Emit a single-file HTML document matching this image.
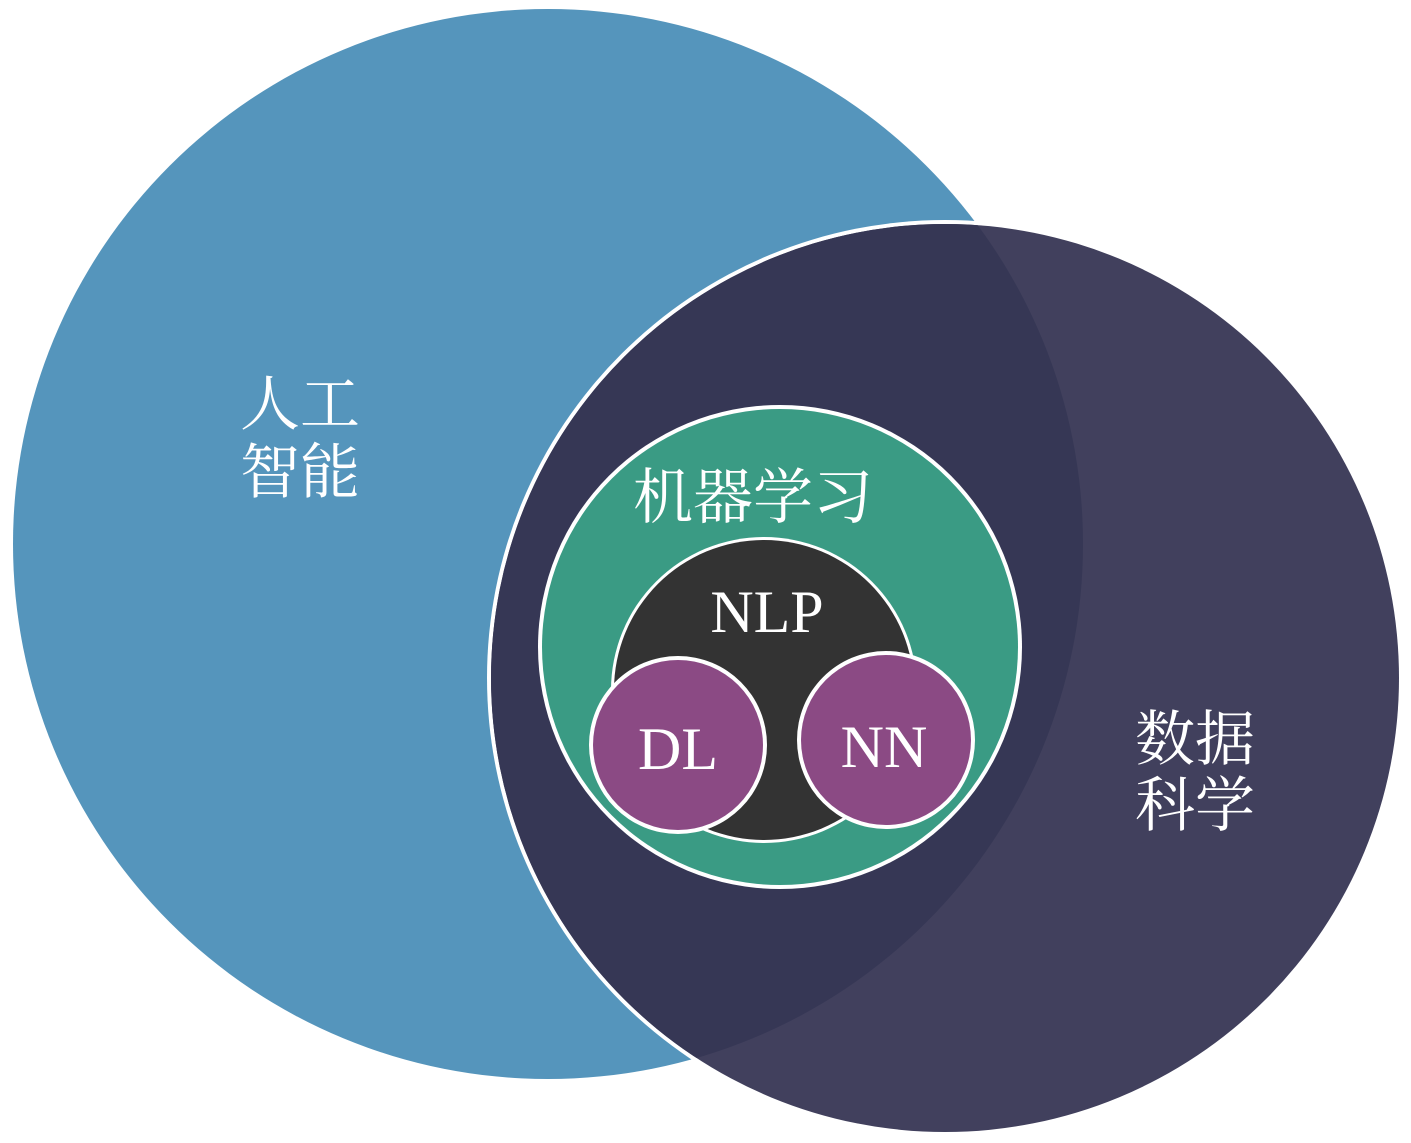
<!DOCTYPE html>
<html><head><meta charset="utf-8"><style>
html,body{margin:0;padding:0;background:#fff;}
svg{display:block}
text{fill:#fff}
.cn{font-family:"Liberation Serif","Noto Serif CJK SC","Noto Sans CJK SC",serif;font-size:60px}
.en{font-family:"Liberation Serif",serif;font-size:60px}
</style></head><body>
<svg width="1411" height="1143" viewBox="0 0 1411 1143" xmlns="http://www.w3.org/2000/svg">
<defs>
<clipPath id="blue"><circle cx="548" cy="544" r="535"/></clipPath>
</defs>
<circle cx="548" cy="544" r="535" fill="#5595bc"/>
<circle cx="945" cy="678" r="458" fill="#fff"/>
<circle cx="945" cy="678" r="454" fill="#41405d"/>
<circle cx="945" cy="678" r="454" fill="#363755" clip-path="url(#blue)"/>
<circle cx="780" cy="647" r="242" fill="#fff"/>
<circle cx="780" cy="647" r="238" fill="#3a9b84"/>
<circle cx="764" cy="690" r="153" fill="#fff"/>
<circle cx="764" cy="690" r="150" fill="#333333"/>
<circle cx="678" cy="745" r="89" fill="#fff"/>
<circle cx="678" cy="745" r="85" fill="#8b4a84"/>
<circle cx="886" cy="740" r="89" fill="#fff"/>
<circle cx="886" cy="740" r="85" fill="#8b4a84"/>
<text class="cn" x="300" y="425" text-anchor="middle">人工</text>
<text class="cn" x="300" y="493" text-anchor="middle">智能</text>
<text class="cn" x="1195" y="760" text-anchor="middle">数据</text>
<text class="cn" x="1195" y="826" text-anchor="middle">科学</text>
<text class="cn" x="753" y="518" text-anchor="middle">机器学习</text>
<text class="en" x="767" y="632" text-anchor="middle">NLP</text>
<text class="en" x="678" y="769" text-anchor="middle">DL</text>
<text class="en" x="884" y="767" text-anchor="middle">NN</text>
</svg>
</body></html>
